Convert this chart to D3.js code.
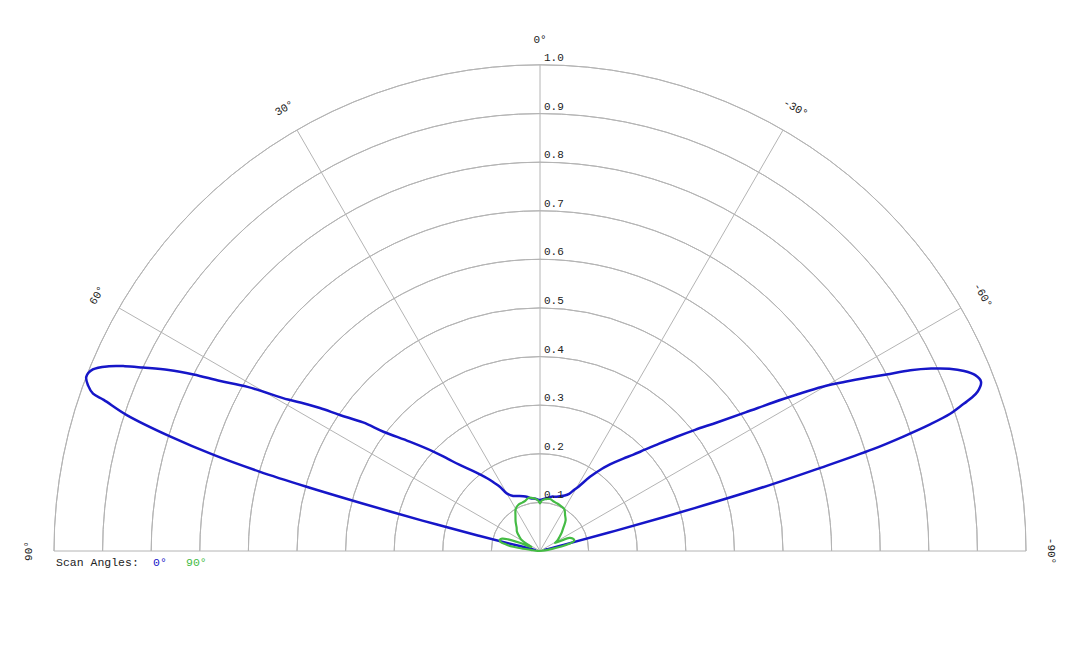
<!DOCTYPE html>
<html>
<head>
<meta charset="utf-8">
<script src="https://cdn.jsdelivr.net/npm/d3@7"></script>
<style>
  html, body { margin: 0; padding: 0; background: #fff; }
  svg { display: block; }
  text { font-family: "Courier New", "Liberation Mono", "DejaVu Sans Mono", monospace; }
</style>
</head>
<body>
<svg id="chart" width="1080" height="648"></svg>
<script>
// ---- Data (angles in degrees, positive = left of 0°) ----
const radialTicks = [0.1, 0.2, 0.3, 0.4, 0.5, 0.6, 0.7, 0.8, 0.9, 1.0];
const radialTickLabels = ["0.1","0.2","0.3","0.4","0.5","0.6","0.7","0.8","0.9","1.0"];
const angleTicks = [90, 60, 30, 0, -30, -60, -90];
const angleTickLabels = ["90°","60°","30°","0°","-30°","-60°","-90°"];
const seriesNames = ["0°", "90°"];

// Scan angle 0° (blue)
const angles0 = [-90,-85,-80,-77,-76,-75.5,-75,-74.5,-74,-73.5,-73,-72.5,-72,-71.5,-71,-70.5,-70,-69,-68,-67,-66,-65,-64,-63,-62,-61,-60,-58,-56,-54,-52,-50,-48,-46,-44,-42,-40,-37,-34,-31,-29,-27,-24,-20,-16,-13,-10,-5,0,
  5,10,13,17,22,26,30,32,34,36,40,43,45,47,50,52.7,54,55.8,57,58.2,59,60.7,62,63,64,65.2,66,66.8,67.9,69,69.9,70.6,70.9,71.8,72.8,73.6,74.2,74.6,75,75.5,76,76.5,77,80,85,90];
const values0 = [0.01,0.01,0.01,0.012,0.015,0.05,0.16,0.33,0.49,0.60,0.715,0.785,0.845,0.89,0.915,0.94,0.958,0.972,0.966,0.948,0.922,0.888,0.848,0.80,0.758,0.718,0.68,0.59,0.51,0.45,0.405,0.365,0.33,0.30,0.275,0.256,0.238,0.212,0.184,0.155,0.143,0.132,0.125,0.12,0.116,0.115,0.112,0.108,0.105,
  0.108,0.11,0.114,0.118,0.122,0.126,0.137,0.156,0.17,0.185,0.215,0.242,0.268,0.30,0.35,0.405,0.45,0.498,0.54,0.58,0.605,0.69,0.745,0.80,0.85,0.90,0.935,0.965,0.993,1.0,0.99,0.975,0.95,0.895,0.797,0.70,0.60,0.50,0.38,0.25,0.13,0.05,0.015,0.01,0.01,0.01];

// Scan angle 90° (green)
const angles90 = [-90,-83,-80,-78,-76,-74,-72,-69,-66,-64,-62,-60,-55,-50,-45,-40,-35,-30,-25,-20,-15,-11,-8,-5,-2,0,
  2,5,8,12,16,20,25,30,35,40,45,50,55,59,62,64,66,68,70,72,74.5,77,79,80,82,84,87,90];
const values90 = [0,0.01,0.025,0.045,0.062,0.072,0.074,0.072,0.066,0.05,0.035,0.04,0.048,0.058,0.068,0.082,0.09,0.1,0.102,0.104,0.106,0.109,0.108,0.107,0.104,0.098,
  0.104,0.108,0.11,0.112,0.108,0.106,0.105,0.1,0.088,0.078,0.068,0.062,0.052,0.044,0.03,0.02,0.02,0.045,0.07,0.082,0.086,0.083,0.072,0.066,0.04,0.015,0.005,0];

const colors = ["#1616c8", "#44bb44"];

// ---- Layout ----
const svg = d3.select("#chart");
const cx = 540, cy = 551, R = 486;
const r = d3.scaleLinear().domain([0, 1]).range([0, R]);
const toRad = d => -d * Math.PI / 180; // d3 radial: clockwise from top
const g = svg.append("g").attr("transform", `translate(${cx},${cy})`);
const gridColor = "#b4b4b4";

// grid arcs
const arc = d3.arc().startAngle(-Math.PI / 2).endAngle(Math.PI / 2);
g.selectAll("path.ring").data(radialTicks).join("path")
  .attr("class", "ring")
  .attr("d", d => arc({innerRadius: r(d), outerRadius: r(d)}))
  .attr("fill", "none").attr("stroke", gridColor).attr("stroke-width", 1);

// radial spokes
g.selectAll("line.spoke").data(angleTicks).join("line")
  .attr("class", "spoke")
  .attr("x1", 0).attr("y1", 0)
  .attr("x2", d => r(1) * Math.sin(toRad(d)))
  .attr("y2", d => -r(1) * Math.cos(toRad(d)))
  .attr("stroke", gridColor).attr("stroke-width", 1);

// series
const lineRadial = d3.lineRadial()
  .angle(d => toRad(d[0]))
  .radius(d => r(d[1]))
  .curve(d3.curveCatmullRom.alpha(0.5));

const series = [
  angles0.map((a, i) => [a, values0[i]]),
  angles90.map((a, i) => [a, values90[i]])
];
// draw 0° first, then 90° on top
g.append("path").attr("d", lineRadial(series[0]))
  .attr("fill", "none").attr("stroke", colors[0]).attr("stroke-width", 2.5).attr("stroke-linejoin", "round");
g.append("path").attr("d", lineRadial(series[1]))
  .attr("fill", "none").attr("stroke", colors[1]).attr("stroke-width", 2.2).attr("stroke-linejoin", "round");

// radial tick labels
g.selectAll("text.rlab").data(radialTicks).join("text")
  .attr("class", "rlab")
  .attr("x", 4).attr("y", d => -r(d) - 4)
  .attr("font-size", 11).attr("fill", "#222")
  .text((d, i) => radialTickLabels[i]);

// angle labels
const labR = R + 25;
g.selectAll("text.alab").data(angleTicks).join("text")
  .attr("class", "alab")
  .attr("text-anchor", "middle").attr("dominant-baseline", "central")
  .attr("font-size", 11).attr("fill", "#222")
  .attr("transform", d => {
    const a = toRad(d);
    const x = labR * Math.sin(a), y = -labR * Math.cos(a);
    return `translate(${x},${y}) rotate(${-d})`;
  })
  .text((d, i) => angleTickLabels[i]);

// legend
const leg = svg.append("text").attr("x", 56).attr("y", 566).attr("font-size", 11.5);
leg.append("tspan").attr("fill", "#222").text("Scan Angles:");
svg.append("text").attr("x", 153).attr("y", 566).attr("font-size", 11.5).attr("fill", colors[0]).text(seriesNames[0]);
svg.append("text").attr("x", 186).attr("y", 566).attr("font-size", 11.5).attr("fill", colors[1]).text(seriesNames[1]);
</script>
</body>
</html>
